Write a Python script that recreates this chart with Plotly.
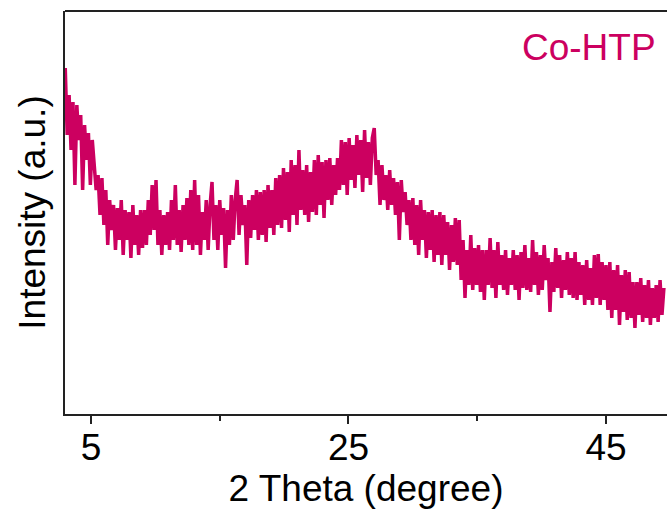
import numpy as np
import plotly.graph_objects as go

# XRD scan grid (degrees 2-theta): start 3.0, step 0.15
scan_start = 3.0
scan_step = 0.15

intensity = [
    346, 279, 319, 264, 312, 229, 309, 274, 299, 224,
    289, 254, 281, 229, 274, 244, 224, 239, 199, 236,
    189, 224, 169, 214, 184, 209, 164, 206, 174, 214,
    159, 204, 174, 202, 156, 209, 169, 199, 159, 204,
    166, 204, 169, 214, 179, 229, 184, 234, 169, 204,
    159, 199, 169, 202, 164, 214, 174, 229, 169, 204,
    162, 209, 174, 216, 169, 224, 164, 234, 169, 219,
    159, 202, 174, 214, 164, 209, 232, 174, 209, 164,
    214, 179, 206, 146, 204, 169, 219, 174, 214, 234,
    179, 219, 189, 209, 149, 214, 176, 219, 184, 224,
    174, 222, 179, 224, 172, 229, 186, 224, 179, 236,
    189, 239, 186, 246, 194, 242, 182, 254, 199, 249,
    189, 264, 204, 244, 199, 249, 192, 242, 202, 254,
    199, 259, 209, 252, 196, 254, 214, 256, 209, 249,
    219, 256, 224, 274, 229, 272, 219, 276, 234, 269,
    226, 279, 239, 274, 222, 284, 236, 272, 229, 276,
    286, 239, 254, 209, 249, 214, 239, 204, 244, 209,
    236, 199, 232, 174, 234, 202, 222, 189, 214, 174,
    216, 169, 209, 159, 214, 174, 204, 156, 202, 164,
    204, 152, 199, 159, 202, 149, 199, 159, 192, 144,
    189, 152, 196, 149, 194, 134, 174, 116, 164, 129,
    179, 124, 166, 129, 169, 122, 164, 114, 164, 129,
    176, 126, 164, 116, 172, 129, 159, 124, 164, 119,
    156, 129, 164, 124, 159, 114, 162, 126, 169, 124,
    156, 122, 174, 129, 162, 119, 159, 124, 169, 134,
    156, 102, 152, 122, 166, 126, 159, 116, 154, 124,
    162, 119, 156, 116, 162, 114, 152, 119, 149, 109,
    154, 114, 146, 109, 159, 116, 160, 109, 152, 114,
    149, 104, 152, 96, 144, 104, 149, 89, 139, 102,
    144, 94, 142, 96, 132, 86, 132, 99, 136, 92,
    129, 96, 134, 89, 126, 96, 129, 92, 134, 99,
    126,
]

two_theta = np.round(scan_start + scan_step * np.arange(len(intensity)), 2)

major_ticks = [5, 25, 45]
minor_ticks = [15, 35]
sample_label = "Co-HTP"

line_color = "#CC0060"
font_family = "Liberation Sans, Arial, sans-serif"

fig = go.Figure()
fig.add_trace(go.Scatter(
    x=two_theta, y=intensity, mode="lines",
    line=dict(color=line_color, width=3.5),
    showlegend=False, hoverinfo="skip",
))

fig.update_layout(
    width=667, height=515,
    margin=dict(l=65, r=0, t=11, b=101),
    paper_bgcolor="white", plot_bgcolor="white",
    font=dict(family=font_family, color="black", size=37),
    xaxis=dict(
        range=[2.98, 49.74],
        showgrid=False, zeroline=False,
        showline=True, linecolor="#222222", linewidth=2,
        tickmode="array", tickvals=major_ticks,
        ticks="outside", ticklen=8, tickwidth=2, tickcolor="#222222",
        ticklabelstandoff=-8,
        tickfont=dict(size=37, family=font_family),
        minor=dict(tickmode="array", tickvals=minor_ticks, ticks="outside",
                   ticklen=5, tickwidth=2, tickcolor="#222222", showgrid=False),
        title=dict(text="2 Theta (degree)", font=dict(size=37, family=font_family),
                   standoff=4),
    ),
    yaxis=dict(
        range=[0, 403],
        showgrid=False, zeroline=False,
        showline=True, linecolor="#222222", linewidth=2,
        showticklabels=False, ticks="",
        title=dict(text="Intensity (a.u.)", font=dict(size=37, family=font_family),
                   standoff=6),
    ),
    shapes=[dict(type="line", xref="paper", yref="paper", x0=0, x1=1, y0=1, y1=1,
                 line=dict(color="#222222", width=2))],
    annotations=[dict(text=sample_label, xref="paper", yref="paper",
                      x=0.985, y=0.91, xanchor="right", yanchor="middle",
                      showarrow=False,
                      font=dict(size=37, color=line_color, family=font_family))],
)

fig.write_html("out.html")
